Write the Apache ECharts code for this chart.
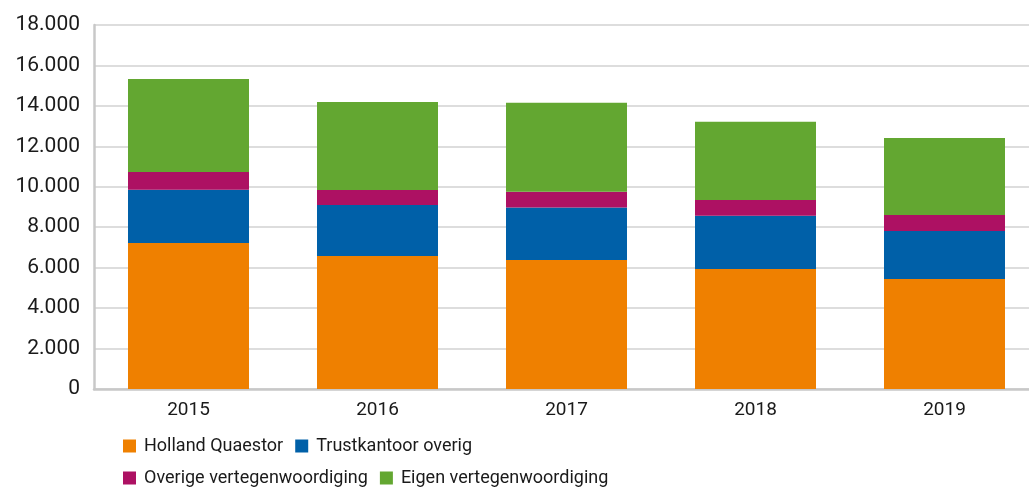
<!DOCTYPE html>
<html lang="nl" style="height: 100%">
  <head>
    <meta charset="utf-8" />
  </head>
  <body style="height: 100%; margin: 0; background: #ffffff">
    <div id="container" style="width: 1029px; height: 488px"></div>

    <script
      type="text/javascript"
      src="https://cdn.jsdelivr.net/npm/echarts@6.0.0/dist/echarts.min.js"
    ></script>
    <script type="text/javascript">
      // data
      const years = ["2015", "2016", "2017", "2018", "2019"];
      const hollandQuaestor = [7220, 6580, 6380, 5930, 5440];
      const trustkantoorOverig = [2635, 2520, 2590, 2640, 2370];
      const overigeVertegenwoordiging = [875, 740, 780, 780, 790];
      const eigenVertegenwoordiging = [4600, 4350, 4400, 3860, 3810];

      const fontFamily = "Roboto, 'Noto Sans', sans-serif";
      const textColor = "#1a1a1a";

      var dom = document.getElementById("container");
      var myChart = echarts.init(dom, null, { renderer: "canvas" });

      function dotThousands(v) {
        return String(v).replace(/\B(?=(\d{3})+(?!\d))/g, ".");
      }

      function barSeries(name, data, color) {
        return {
          name: name,
          type: "bar",
          stack: "total",
          barWidth: 121,
          data: data,
          itemStyle: { color: color },
        };
      }

      const legendText = {
        fontFamily: fontFamily,
        fontSize: 18,
        color: textColor,
        padding: [0, 0, 0, 3],
      };

      var option = {
        animation: false,
        textStyle: { fontFamily: fontFamily },
        grid: {
          left: 94,
          top: 25,
          width: 945,
          height: 364,
          outerBoundsMode: "none",
        },
        legend: [
          {
            left: 118,
            top: 432,
            icon: "rect",
            itemWidth: 13,
            itemHeight: 13,
            itemGap: 12,
            textStyle: legendText,
            data: ["Holland Quaestor", "Trustkantoor overig"],
          },
          {
            left: 118,
            top: 464,
            icon: "rect",
            itemWidth: 13,
            itemHeight: 13,
            itemGap: 12,
            textStyle: legendText,
            data: ["Overige vertegenwoordiging", "Eigen vertegenwoordiging"],
          },
        ],
        xAxis: {
          type: "category",
          data: years,
          axisLine: { lineStyle: { color: "#c8c8c8", width: 2.5 } },
          axisTick: { show: false },
          axisLabel: {
            color: textColor,
            fontSize: 19,
            margin: 12,
          },
        },
        yAxis: {
          type: "value",
          min: 0,
          max: 18000,
          interval: 2000,
          axisLine: { show: true, lineStyle: { color: "#c8c8c8", width: 2.5 } },
          axisTick: { show: false },
          splitLine: { lineStyle: { color: "#d2d2d2", width: 1.5 } },
          axisLabel: {
            color: textColor,
            fontSize: 21,
            margin: 14,
            formatter: dotThousands,
          },
        },
        series: [
          barSeries("Holland Quaestor", hollandQuaestor, "#ef8000"),
          barSeries("Trustkantoor overig", trustkantoorOverig, "#0060a8"),
          barSeries(
            "Overige vertegenwoordiging",
            overigeVertegenwoordiging,
            "#ad1163"
          ),
          barSeries(
            "Eigen vertegenwoordiging",
            eigenVertegenwoordiging,
            "#63a731"
          ),
        ],
      };

      myChart.setOption(option);
      window.addEventListener("resize", myChart.resize);
    </script>
  </body>
</html>
